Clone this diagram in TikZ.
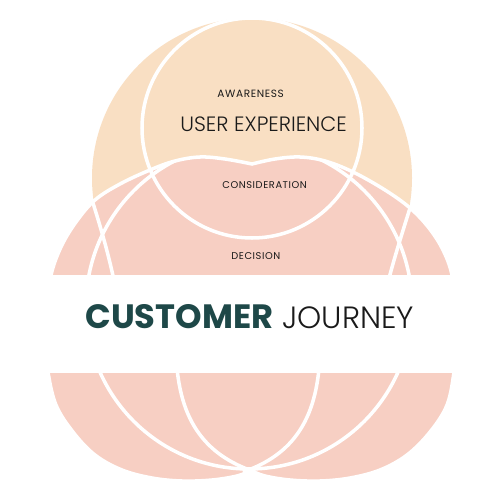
\documentclass[tikz,border=0pt]{standalone}
\usepackage{fontspec}
\setmainfont{Poppins}
\newfontfamily\popsp{Poppins}[LetterSpace=6]
\newfontfamily\poplight{Poppins Light}
\definecolor{peach}{HTML}{F9DFC3}
\definecolor{pinkc}{HTML}{F7CFC3}
\definecolor{tealc}{HTML}{1E4848}
\definecolor{inkc}{HTML}{1A1A1A}
\begin{document}
\begin{tikzpicture}[x=0.02cm,y=-0.02cm,
  wline/.style={white,line width=2pt},
  small/.style={inner sep=0pt,anchor=base west,text=inkc,font=\popsp\fontsize{5.6}{6}\selectfont},
  big/.style={inner sep=0pt,anchor=base west,text=inkc,font=\poplight\fontsize{11.8}{14}\selectfont}]
\useasboundingbox (0,0) rectangle (500,500);
\fill[white] (0,0) rectangle (500,500);
\def\pinkpath{plot[smooth,tension=0.6] coordinates {(252,164) (225,159) (200,157) (175,161) (150,170) (120,184) (95,200) (76,222) (61,247) (51,275) (46,310) (46,345) (48,372) (56,405) (73,432) (95,455) (122,470) (152,478) (182,481) (212,480) (237,476) (250,471)} -- plot[smooth,tension=0.6] coordinates {(252,471) (265,476) (290,480) (320,481) (350,478) (380,470) (407,455) (430,432) (447,405) (454,372) (456,345) (456,310) (452,275) (443,250) (429,228) (410,208) (385,190) (353,172) (325,161) (300,157) (275,159) (252,164)} -- cycle}
\fill[peach] (252,178) circle[radius=160];
\fill[pinkc] \pinkpath;
\begin{scope}
  \clip \pinkpath;
  \draw[wline] (249,306) circle[radius=163];
  \draw[wline] (93,203) .. controls (103,235) and (110,260) .. (116,290);
  \draw[wline] (410,208) .. controls (400,240) and (393,262) .. (386,290);
  \draw[wline] (176,345) .. controls (176,420) and (205,455) .. (255,472);
  \draw[wline] (320,345) .. controls (320,420) and (292,455) .. (243,472);
\end{scope}
\draw[wline] \pinkpath;
\draw[wline] (252,128) circle[radius=110];
\fill[white] (0,275) rectangle (500,373);
\node[small,font=\popsp\fontsize{6}{7}\selectfont] (aw) at (217,97) {AWARENESS};
\node[big] (ux) at (180,131.5) {USER EXPERIENCE};
\node[small] (cons) at (222,188.5) {CONSIDERATION};
\node[small] (dec) at (231,259.3) {DECISION};
\node[inner sep=0pt,anchor=base west,text=tealc,font=\bfseries\fontsize{19.2}{21}\selectfont] (cust) at (85,328.5) {CUSTOMER};
\node[inner sep=0pt,anchor=base west,text=inkc,font=\poplight\fontsize{17.5}{20}\selectfont] (jour) at (282,328.5) {JOURNEY};
\end{tikzpicture}
\end{document}
